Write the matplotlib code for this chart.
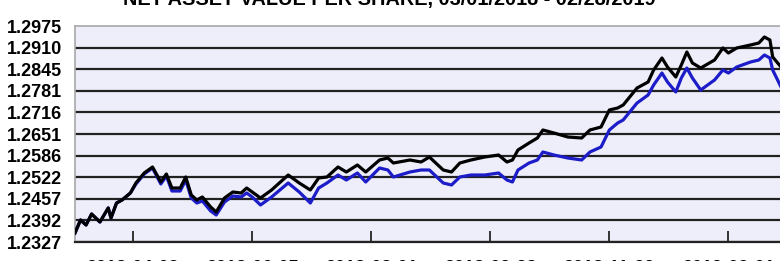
import matplotlib
matplotlib.use("Agg")
import matplotlib.pyplot as plt

# trading-day index (0 = 2018-03-01) and net asset value per share
days = [0, 2, 4, 6, 9, 12, 13, 15, 17, 20, 22, 25, 28, 31, 33, 35, 38, 40, 42,
        44, 46, 49, 51, 54, 57, 60, 62, 64, 67, 71, 77, 81, 85, 88, 91, 95,
        98, 102, 105, 110, 113, 115, 121, 125, 128, 133, 136, 139, 143, 148,
        153, 156, 158, 160, 164, 167, 169, 173, 178, 183, 186, 190, 193, 196,
        198, 203, 207, 209, 212, 214, 217, 219, 221, 223, 226, 231, 234, 236,
        239, 244, 247, 249, 251, 252, 255]

nav_total = [1.2354, 1.2393, 1.2378, 1.2411, 1.2387, 1.2429, 1.2399, 1.2444,
             1.2453, 1.2474, 1.2504, 1.2534, 1.2552, 1.2507, 1.2531, 1.2489,
             1.2489, 1.2522, 1.2468, 1.2453, 1.2462, 1.2432, 1.2417, 1.2459,
             1.2477, 1.2474, 1.2489, 1.2477, 1.2459, 1.2483, 1.2528, 1.2504,
             1.2483, 1.2519, 1.2522, 1.2552, 1.2537, 1.2558, 1.2537, 1.2573,
             1.2579, 1.2564, 1.2573, 1.2567, 1.2582, 1.2543, 1.2537, 1.2564,
             1.2573, 1.2582, 1.2588, 1.2567, 1.2573, 1.2603, 1.2624, 1.2639,
             1.2663, 1.2654, 1.2642, 1.2639, 1.2663, 1.2672, 1.2723, 1.2729,
             1.2738, 1.2789, 1.2807, 1.2843, 1.2879, 1.2852, 1.2822, 1.2858,
             1.2897, 1.2864, 1.2849, 1.2873, 1.2909, 1.2894, 1.2909, 1.2918,
             1.2924, 1.2942, 1.2933, 1.2882, 1.2852]

nav_price = [1.2354, 1.2393, 1.2378, 1.2411, 1.2387, 1.2429, 1.2399, 1.2444,
             1.2453, 1.2474, 1.2501, 1.2531, 1.2549, 1.2501, 1.2525, 1.2480,
             1.2480, 1.2513, 1.2459, 1.2444, 1.2450, 1.2420, 1.2408, 1.2447,
             1.2465, 1.2462, 1.2474, 1.2462, 1.2438, 1.2462, 1.2504, 1.2477,
             1.2444, 1.2489, 1.2504, 1.2528, 1.2513, 1.2534, 1.2507, 1.2549,
             1.2543, 1.2522, 1.2537, 1.2543, 1.2543, 1.2504, 1.2498, 1.2522,
             1.2528, 1.2528, 1.2534, 1.2513, 1.2507, 1.2543, 1.2564, 1.2573,
             1.2597, 1.2588, 1.2579, 1.2573, 1.2597, 1.2612, 1.2663, 1.2684,
             1.2693, 1.2744, 1.2768, 1.2798, 1.2834, 1.2807, 1.2777, 1.2819,
             1.2849, 1.2819, 1.2783, 1.2813, 1.2843, 1.2834, 1.2852, 1.2867,
             1.2873, 1.2888, 1.2879, 1.2843, 1.2792]

y_ticks = [1.2327, 1.2392, 1.2457, 1.2522, 1.2586, 1.2651, 1.2716, 1.2781,
           1.2845, 1.2910, 1.2975]
x_tick_days = [21, 64, 107, 150, 193, 236]
x_tick_labels = ["2018-04-03", "2018-06-05", "2018-08-01", "2018-09-28",
                 "2018-11-29", "2019-02-01"]

plt.rcParams['font.family'] = ['Liberation Sans', 'DejaVu Sans']

fig = plt.figure(figsize=(7.8, 2.61), dpi=100)
ax = fig.add_axes([75 / 780, 1 - 242 / 261, 706 / 780, 216 / 261])
ax.set_facecolor('#eeeefa')

for v in y_ticks[:-1]:
    ax.axhline(v, color='#222222', lw=1.6, zorder=1)

ax.plot(days, nav_price, color='#1c1cc8', lw=2.3, zorder=3)
ax.plot(days, nav_total, color='black', lw=2.3, zorder=4)

ax.set_xlim(0, 255)
ax.set_ylim(y_ticks[0], y_ticks[-1])

ax.set_yticks(y_ticks)
ax.set_yticklabels([f"{v:.4f}" for v in y_ticks], fontsize=13,
                   fontweight='bold')
ax.tick_params(axis='y', length=0, pad=9)

ax.set_xticks(x_tick_days)
ax.set_xticklabels(x_tick_labels, fontsize=13, fontweight='bold')
ax.tick_params(axis='x', direction='in', length=8, width=1.4,
               color='#333333', pad=13)

for side in ['left', 'top']:
    ax.spines[side].set_color('#a8a8a8')
    ax.spines[side].set_linewidth(1.2)
ax.spines['right'].set_visible(False)
ax.spines['bottom'].set_color('#222222')
ax.spines['bottom'].set_linewidth(1.6)

fig.text(0.499, 1 - 5 / 261, "NET ASSET VALUE PER SHARE, 03/01/2018 - 02/28/2019",
         ha='center', va='baseline', fontsize=14.3, fontweight='bold')

fig.savefig("out.png", dpi=100)
